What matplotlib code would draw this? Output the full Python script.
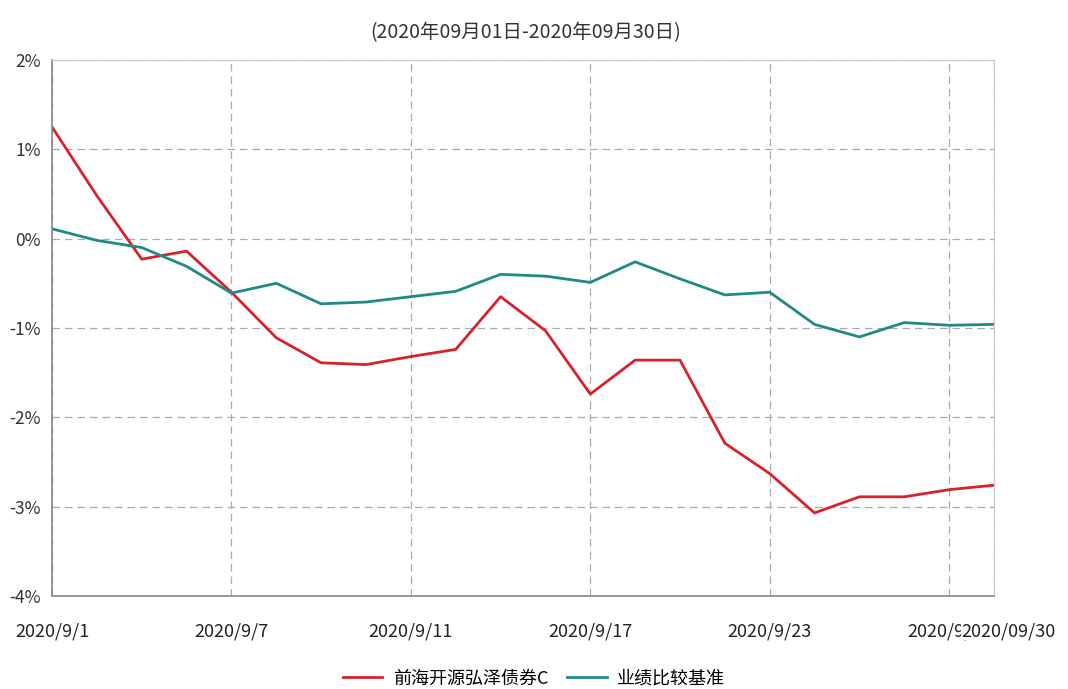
import matplotlib
matplotlib.use("Agg")
import matplotlib.pyplot as plt
import matplotlib.transforms as mtransforms
import numpy as np

# 交易日与累计收益率(%)
dates = ['2020/9/1', '2020/9/2', '2020/9/3', '2020/9/4', '2020/9/7', '2020/9/8',
         '2020/9/9', '2020/9/10', '2020/9/11', '2020/9/14', '2020/9/15', '2020/9/16',
         '2020/9/17', '2020/9/18', '2020/9/21', '2020/9/22', '2020/9/23', '2020/9/24',
         '2020/9/25', '2020/9/28', '2020/9/29', '2020/09/30']
fund = [1.25, 0.48, -0.23, -0.14, -0.60, -1.11, -1.39, -1.41, -1.32, -1.24, -0.65, -1.03,
        -1.74, -1.36, -1.36, -2.29, -2.63, -3.07, -2.89, -2.89, -2.81, -2.76]
bench = [0.11, -0.02, -0.10, -0.31, -0.61, -0.50, -0.73, -0.71, -0.65, -0.59, -0.40, -0.42,
         -0.49, -0.26, -0.45, -0.63, -0.60, -0.96, -1.10, -0.94, -0.97, -0.96]
tick_idx = [0, 4, 8, 12, 16, 20, 21]
yticks = [2, 1, 0, -1, -2, -3, -4]

fund_name = '前海开源弘泽债券C'
bench_name = '业绩比较基准'
title = '(2020年09月01日-2020年09月30日)'

plt.rcParams['font.family'] = ['Noto Sans CJK SC', 'DejaVu Sans']

fig = plt.figure(figsize=(10.68, 6.89), dpi=100)
ax = fig.add_axes([0.0487, 0.135, 0.882, 0.778])

x = np.arange(len(dates))
ax.plot(x, fund, color='#d7222b', lw=2.0, label=fund_name)
ax.plot(x, bench, color='#1f8b84', lw=2.0, label=bench_name)

ax.set_xlim(0, len(dates) - 1)
ax.set_ylim(-4, 2)
ax.set_yticks(yticks)
ax.set_yticklabels([f'{v}%' for v in yticks], fontsize=12.5, color='#333333')
ax.set_xticks(tick_idx)
ax.set_xticklabels([dates[i] for i in tick_idx], fontsize=13, color='#222222')
ax.tick_params(length=0, pad=8)
ax.tick_params(axis='x', pad=19)

# 最后一个日期标签靠右, 盖住前一个标签的后半部分
last = ax.get_xticklabels()[-1]
last.set_horizontalalignment('left')
last.set_transform(last.get_transform() + mtransforms.ScaledTranslation(-0.33, 0, fig.dpi_scale_trans))
last.set_bbox(dict(facecolor='white', edgecolor='none', pad=0))

ax.grid(True, linestyle=(0, (6, 4)), color='#aaaaaa', lw=0.9)
for s in ['top', 'right']:
    ax.spines[s].set_color('#c8c8c8')
for s in ['left', 'bottom']:
    ax.spines[s].set_color('#888888')
    ax.spines[s].set_linewidth(1.2)

fig.text(0.492, 0.953, title, ha='center', va='center', fontsize=14, color='#333333')

fig.legend(loc='center', bbox_to_anchor=(0.5, 0.015), ncol=2, frameon=False,
           fontsize=13, handlelength=2.2, columnspacing=1.0, handletextpad=0.6)

fig.savefig('out.png', dpi=100)
